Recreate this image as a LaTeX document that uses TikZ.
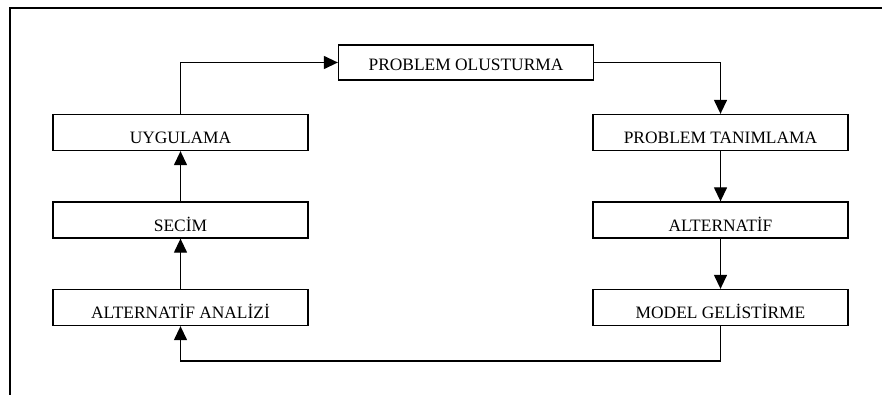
\documentclass[tikz,border=0pt]{standalone}
\usepackage{fontspec}
\setmainfont{Liberation Serif}
\usetikzlibrary{arrows.meta}
\begin{document}
\begin{tikzpicture}[x=1pt,y=-1pt,
  box/.style={draw, line width=1.3pt, minimum width=255pt, minimum height=36pt,
    inner sep=0pt, font=\fontsize{17.4}{20}\selectfont, text height=22pt, text depth=0pt},
  topbox/.style={box, minimum height=35pt, text height=17pt},
  flow/.style={line width=1.3pt, -{Triangle[length=14pt,width=13pt]}}]
  \useasboundingbox (0,0) rectangle (882,395);
  % page frame: top and left rules
  \draw[line width=2pt] (882,8) -- (10,8) -- (10,395);
  % process boxes
  \node[topbox] (olus)   at (466,62.5)   {PROBLEM OLUSTURMA};
  \node[box]    (tanim)  at (720.5,132.5) {PROBLEM TANIMLAMA};
  \node[box]    (alt)    at (720.5,220)   {ALTERNATİF};
  \node[box]    (model)  at (720.5,307.5) {MODEL GELİSTİRME};
  \node[box]    (analiz) at (180.5,307.5) {ALTERNATİF ANALİZİ};
  \node[box]    (secim)  at (180.5,220)   {SECİM};
  \node[box]    (uyg)    at (180.5,132.5) {UYGULAMA};
  % cycle connectors
  \draw[flow] (uyg.north) |- (olus.west);
  \draw[flow] (olus.east) -| (tanim.north);
  \draw[flow] (tanim) -- (alt);
  \draw[flow] (alt) -- (model);
  \coordinate (low) at (0,361);
  \draw[flow] (model.south) -- (model.south |- low) -| (analiz.south);
  \draw[flow] (analiz) -- (secim);
  \draw[flow] (secim) -- (uyg);
\end{tikzpicture}
\end{document}
